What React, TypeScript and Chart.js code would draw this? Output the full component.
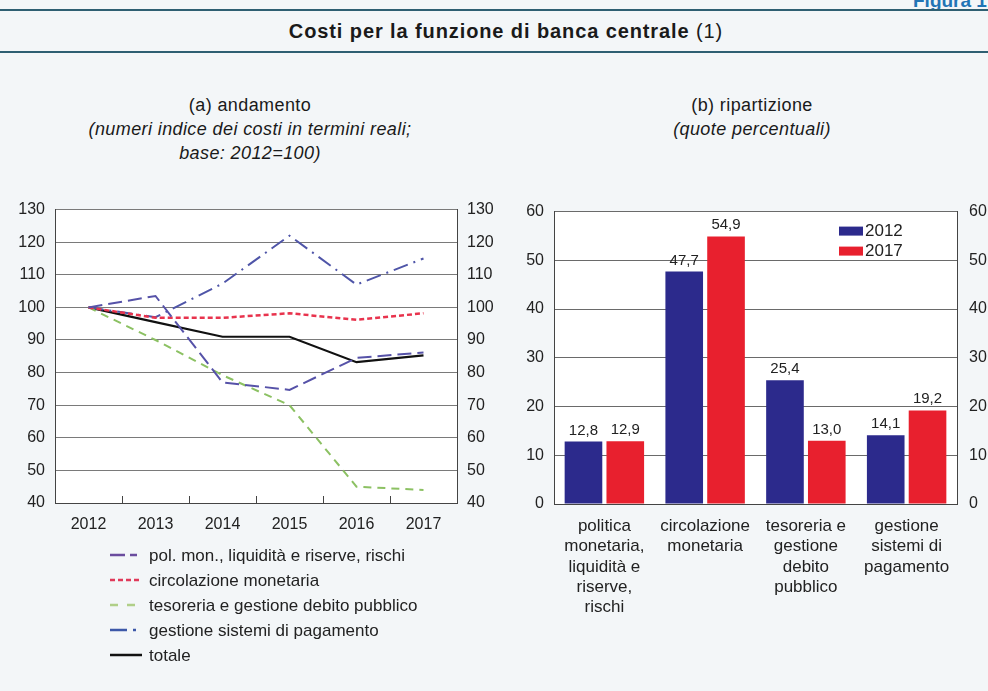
import React, { useEffect, useRef } from "react";
import { Chart, registerables } from "chart.js";

Chart.register(...registerables);

const FONT = "'Liberation Sans', Arial, Helvetica, sans-serif";
Chart.defaults.font.family = FONT;

// ---- (a) andamento ----
const years = ["2012", "2013", "2014", "2015", "2016", "2017"];
const polMon = [100, 103.5, 77, 74.7, 84.5, 86.2];
const circolazione = [100, 96.8, 96.8, 98.2, 96.2, 98.2];
const tesoreria = [100, 90, 79.2, 70, 45, 44];
const gestioneSistemi = [100, 97, 107.3, 122, 107, 115];
const totale = [100, 95.5, 91, 91, 83.2, 85.3];
const lineLabels = [
  "pol. mon., liquidità e riserve, rischi",
  "circolazione monetaria",
  "tesoreria e gestione debito pubblico",
  "gestione sistemi di pagamento",
  "totale",
];

// ---- (b) ripartizione ----
const barCategories = [
  ["politica", "monetaria,", "liquidità e", "riserve,", "rischi"],
  ["circolazione", "monetaria"],
  ["tesoreria e", "gestione", "debito", "pubblico"],
  ["gestione", "sistemi di", "pagamento"],
];
const share2012 = [12.8, 47.7, 25.4, 14.1];
const share2017 = [12.9, 54.9, 13.0, 19.2];
const barSeriesLabels = ["2012", "2017"];

const fmt = (v: number) => v.toFixed(1).replace(".", ",");

const whitePlot = {
  id: "whitePlot",
  beforeDraw(chart: any) {
    const { ctx, chartArea } = chart;
    ctx.save();
    ctx.fillStyle = "#ffffff";
    ctx.fillRect(chartArea.left, chartArea.top, chartArea.right - chartArea.left, chartArea.bottom - chartArea.top);
    ctx.restore();
  },
};

const innerTicks = {
  id: "innerTicks",
  beforeDatasetsDraw(chart: any) {
    const { ctx, chartArea } = chart;
    const x = chart.scales.x;
    ctx.save();
    ctx.strokeStyle = "#444";
    ctx.lineWidth = 1;
    for (let i = 1; i < x.ticks.length; i++) {
      const px = Math.round((x.getPixelForTick(i - 1) + x.getPixelForTick(i)) / 2) + 0.5;
      ctx.beginPath();
      ctx.moveTo(px, chartArea.bottom);
      ctx.lineTo(px, chartArea.bottom - 7);
      ctx.stroke();
    }
    ctx.restore();
  },
};

const lineLegend = {
  id: "lineLegend",
  afterDraw(chart: any) {
    const { ctx, chartArea } = chart;
    ctx.save();
    ctx.font = `17px ${FONT}`;
    ctx.textBaseline = "middle";
    ctx.textAlign = "left";
    chart.data.datasets.forEach((ds: any, i: number) => {
      const y = chartArea.bottom + 52 + i * 25;
      ctx.beginPath();
      ctx.setLineDash(ds.legendDash || []);
      ctx.strokeStyle = ds.legendColor || ds.borderColor;
      ctx.lineWidth = 2.5;
      ctx.moveTo(110, y);
      ctx.lineTo(142, y);
      ctx.stroke();
      ctx.setLineDash([]);
      ctx.fillStyle = "#222";
      ctx.fillText(ds.label, 149, y + 1);
    });
    ctx.restore();
  },
};

const barValueLabels = {
  id: "barValueLabels",
  afterDatasetsDraw(chart: any) {
    const { ctx } = chart;
    ctx.save();
    ctx.font = `15px ${FONT}`;
    ctx.fillStyle = "#222";
    ctx.textAlign = "center";
    ctx.textBaseline = "alphabetic";
    chart.data.datasets.forEach((ds: any, di: number) => {
      const meta = chart.getDatasetMeta(di);
      meta.data.forEach((el: any, i: number) => {
        ctx.fillText(fmt(ds.data[i]), el.x, el.y - 7);
      });
    });
    ctx.restore();
  },
};

const barLegend = {
  id: "barLegend",
  afterDraw(chart: any) {
    const { ctx, chartArea } = chart;
    ctx.save();
    ctx.font = `17px ${FONT}`;
    ctx.textBaseline = "middle";
    ctx.textAlign = "left";
    chart.data.datasets.forEach((ds: any, i: number) => {
      const x = chartArea.left + 285;
      const y = chartArea.top + 15 + i * 20;
      ctx.fillStyle = ds.backgroundColor;
      ctx.fillRect(x, y, 24, 9);
      ctx.fillStyle = "#222";
      ctx.fillText(ds.label, x + 26, y + 5);
    });
    ctx.restore();
  },
};

const tickFont = { size: 16, family: FONT };

function LineChart() {
  const ref = useRef<HTMLCanvasElement>(null);
  useEffect(() => {
    const chart = new Chart(ref.current!, {
      type: "line",
      data: {
        labels: years,
        datasets: [
          { label: lineLabels[0], data: polMon, borderColor: "#5652a8", legendColor: "#6a4c9e", borderDash: [14, 6], legendDash: [15, 5, 7, 100], borderWidth: 2 },
          { label: lineLabels[1], data: circolazione, borderColor: "#e8334d", legendColor: "#e03a5a", borderDash: [5, 3], legendDash: [5, 3], borderWidth: 2.5 },
          { label: lineLabels[2], data: tesoreria, borderColor: "#8cc163", legendColor: "#b0cf88", borderDash: [8, 6], legendDash: [8, 9, 8, 100], borderWidth: 2 },
          { label: lineLabels[3], data: gestioneSistemi, borderColor: "#4f55a8", legendColor: "#3c58a8", borderDash: [15, 6, 2, 6], legendDash: [17, 6, 3, 100], borderWidth: 2 },
          { label: lineLabels[4], data: totale, borderColor: "#111111", borderDash: [], legendDash: [], borderWidth: 2.2 },
        ] as any,
      },
      options: {
        animation: false,
        responsive: false,
        layout: { padding: { top: 13, bottom: 147, left: 0, right: 0 } },
        elements: { point: { radius: 0 }, line: { tension: 0 } },
        plugins: { legend: { display: false }, tooltip: { enabled: false } },
        scales: {
          x: {
            type: "category",
            offset: true,
            grid: { display: false, drawTicks: false },
            border: { display: true, color: "#444", width: 1 },
            ticks: { font: tickFont, color: "#222", padding: 12, maxRotation: 0 },
            afterFit: (s: any) => { s.height = 30; },
          },
          y: {
            position: "left",
            min: 40,
            max: 130,
            ticks: { stepSize: 10, font: tickFont, color: "#222", padding: 10 },
            grid: { color: "#7a7a7a", drawTicks: false, lineWidth: 1 },
            border: { display: true, color: "#444" },
            afterFit: (s: any) => { s.width = 55; },
          },
          y2: {
            position: "right",
            min: 40,
            max: 130,
            ticks: { stepSize: 10, font: tickFont, color: "#222", padding: 10 },
            grid: { display: false, drawTicks: false },
            border: { display: true, color: "#444" },
            afterFit: (s: any) => { s.width = 43; },
          },
        },
      } as any,
      plugins: [whitePlot, innerTicks, lineLegend],
    });
    return () => chart.destroy();
  }, []);
  return <canvas ref={ref} width={500} height={490} style={{ position: "absolute", left: 0, top: 190 }} />;
}

function BarChart() {
  const ref = useRef<HTMLCanvasElement>(null);
  useEffect(() => {
    const chart = new Chart(ref.current!, {
      type: "bar",
      data: {
        labels: barCategories,
        datasets: [
          { label: barSeriesLabels[0], data: share2012, backgroundColor: "#2c2a8c", categoryPercentage: 0.83, barPercentage: 0.9 },
          { label: barSeriesLabels[1], data: share2017, backgroundColor: "#e8202e", categoryPercentage: 0.83, barPercentage: 0.9 },
        ],
      },
      options: {
        animation: false,
        responsive: false,
        layout: { padding: { top: 13, bottom: 56, left: 0, right: 0 } },
        plugins: { legend: { display: false }, tooltip: { enabled: false } },
        scales: {
          x: {
            grid: { display: false, drawTicks: false },
            border: { display: true, color: "#444" },
            ticks: { font: { size: 17, family: FONT, lineHeight: 1.2 }, color: "#222", padding: 12, maxRotation: 0, autoSkip: false },
            afterFit: (s: any) => { s.height = 120; },
          },
          y: {
            position: "left",
            min: 0,
            max: 60,
            ticks: { stepSize: 10, font: tickFont, color: "#222", padding: 10 },
            grid: { color: "#6a6a6a", drawTicks: false },
            border: { display: true, color: "#444" },
            afterFit: (s: any) => { s.width = 54; },
          },
          y2: {
            position: "right",
            min: 0,
            max: 60,
            ticks: { stepSize: 10, font: tickFont, color: "#222", padding: 12 },
            grid: { display: false, drawTicks: false },
            border: { display: true, color: "#444" },
            afterFit: (s: any) => { s.width = 31; },
          },
        },
      } as any,
      plugins: [whitePlot, barValueLabels, barLegend],
    });
    return () => chart.destroy();
  }, []);
  return <canvas ref={ref} width={488} height={490} style={{ position: "absolute", left: 500, top: 190 }} />;
}

const textBase: React.CSSProperties = {
  position: "absolute",
  fontFamily: FONT,
  color: "#1a1a1a",
  whiteSpace: "nowrap",
  lineHeight: "1",
};

export default function App() {
  return (
    <div style={{ position: "absolute", left: 0, top: 0, width: 988, height: 691, overflow: "hidden", background: "#f3f6f8" }}>
      <div style={{ ...textBase, left: 913, top: -9, fontSize: 19, fontWeight: "bold", color: "#2274b5" }}>Figura 1</div>
      <div style={{ position: "absolute", left: 0, top: 9, width: 988, height: 2, background: "#2e5f72" }} />
      <div style={{ ...textBase, left: 12, width: 988, top: 21, textAlign: "center", fontSize: 20, letterSpacing: "0.9px" }}>
        <span style={{ fontWeight: "bold" }}>Costi per la funzione di banca centrale</span> (1)
      </div>
      <div style={{ position: "absolute", left: 0, top: 51, width: 988, height: 2, background: "#2e5f72" }} />

      <div style={{ ...textBase, left: 50, width: 400, top: 96, textAlign: "center", fontSize: 18, letterSpacing: "0.4px" }}>(a) andamento</div>
      <div style={{ ...textBase, left: 50, width: 400, top: 120, textAlign: "center", fontSize: 18, letterSpacing: "0.4px", fontStyle: "italic" }}>
        (numeri indice dei costi in termini reali;
      </div>
      <div style={{ ...textBase, left: 50, width: 400, top: 144, textAlign: "center", fontSize: 18, letterSpacing: "0.4px", fontStyle: "italic" }}>
        base: 2012=100)
      </div>

      <div style={{ ...textBase, left: 552, width: 400, top: 96, textAlign: "center", fontSize: 18, letterSpacing: "0.4px" }}>(b) ripartizione</div>
      <div style={{ ...textBase, left: 552, width: 400, top: 120, textAlign: "center", fontSize: 18, letterSpacing: "0.4px", fontStyle: "italic" }}>
        (quote percentuali)
      </div>

      <LineChart />
      <BarChart />
    </div>
  );
}
